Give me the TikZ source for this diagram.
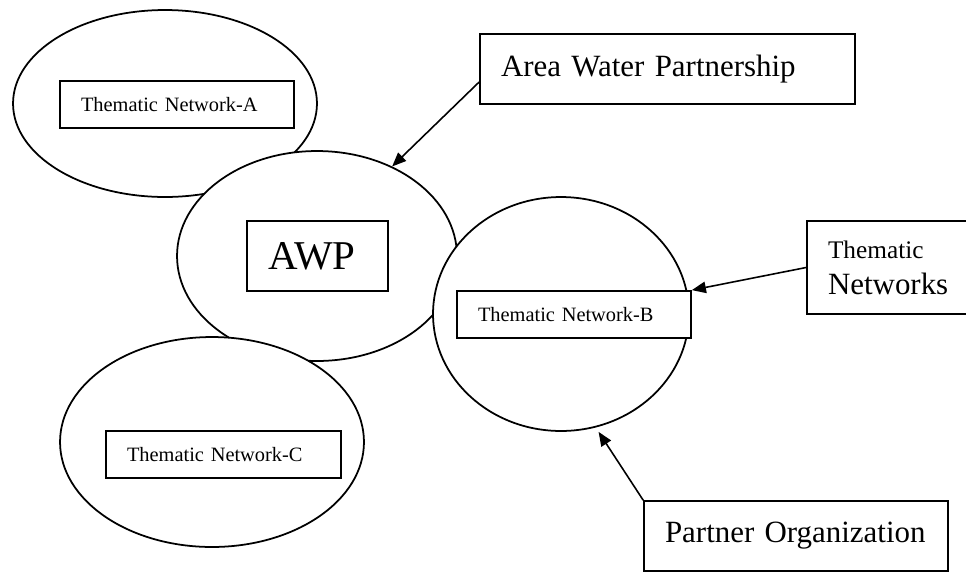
\documentclass[tikz,border=0pt]{standalone}
\usepackage{fontspec}
\setmainfont{Liberation Serif}
\usetikzlibrary{shapes.geometric}
\usetikzlibrary{arrows.meta}
\usetikzlibrary{calc}

\tikzset{
	net/.style = {ellipse, draw, line width=1pt, fill=white, inner sep=0pt},
	tag/.style = {rectangle, draw, line width=1pt, fill=white, inner xsep=0.42cm, inner ysep=0pt, align=left},
	smalltext/.style = {font=\fontsize{11.6}{13.9}\selectfont},
	bigtext/.style = {font=\fontsize{17.6}{20.4}\selectfont},
	hugetext/.style = {font=\fontsize{23.3}{28}\selectfont}
}

\begin{document}
\begin{tikzpicture}[x=0.02cm, y=-0.02cm]
		\useasboundingbox (0,0) rectangle (966,572);
		% the four circles
		\begin{scope}[every node/.style = net]
			\node[minimum width=6.08cm, minimum height=3.74cm] (netA) at (165,103.5) {};
			\node[minimum width=5.6cm, minimum height=4.2cm] (awp) at (317,256) {};
			\node[minimum width=5.12cm, minimum height=4.68cm] (netB) at (561,314) {};
			\node[minimum width=6.08cm, minimum height=4.2cm] (netC) at (212,442) {};
		\end{scope}
		% boxes
		\begin{scope}[every node/.style = tag]
			\node[smalltext, text width=3.84cm, minimum height=0.94cm] (boxA) at (177,104.5) {Thematic Network-A};
			\node[smalltext, text width=3.84cm, minimum height=0.94cm] (boxB) at (574,314.5) {Thematic Network-B};
			\node[smalltext, text width=3.86cm, minimum height=0.94cm] (boxC) at (223.5,454.5) {Thematic Network-C};
			\node[hugetext, text width=1.98cm, minimum height=1.4cm] (boxAWP) at (317.5,256) {AWP};
			\node[bigtext, text width=6.66cm, minimum height=1.4cm] (wpLabel) at (667.5,69) {Area Water Partnership};
			\node[bigtext, text width=2.4cm, minimum height=1.86cm] (tnLabel) at (888,267.5) {{\fontsize{14.4}{17}\selectfont Thematic}\\Networks};
			\node[bigtext, text width=5.24cm, minimum height=1.4cm] (poLabel) at (796,536) {Partner Organization};
		\end{scope}
		% arrows
		\begin{scope}[>={Triangle[length=8pt, width=6.5pt]}, line width=0.9pt]
			\path[->] ($(wpLabel.west)+(0,13)$) edge (awp.50);
			\path[->] (tnLabel.west) edge (boxB.north east);
			\path[->, shorten >=3pt] (poLabel.north west) edge (netB.-73);
		\end{scope}
	\end{tikzpicture}
\end{document}
